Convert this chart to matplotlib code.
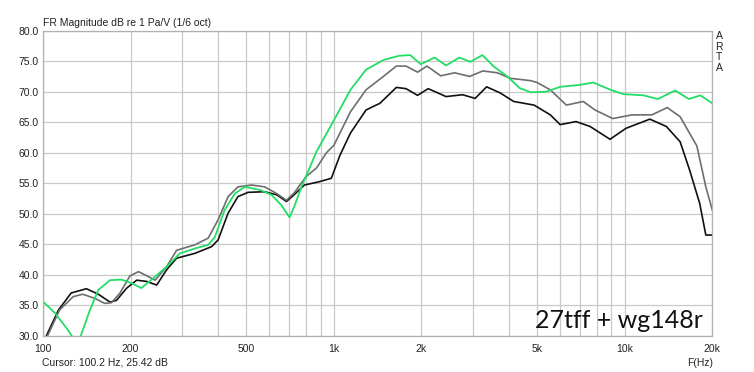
import matplotlib
matplotlib.use('Agg')
import matplotlib.pyplot as plt

# frequency response readings (Hz, dB)
green_f = [100, 110, 122, 127, 134, 145, 155, 170, 186, 202, 218, 239, 266, 296, 333, 370, 390,
           421, 457, 494, 557, 610, 660, 704, 730, 774, 872, 1000, 1140, 1290, 1480, 1680, 1830,
           1990, 2220, 2430, 2700, 2950, 3240, 3550, 3950, 4350, 4760, 5370, 6000, 6980, 7800,
           8940, 9900, 11600, 13000, 14900, 16600, 18200, 20000]
green_db = [35.6, 33.7, 30.9, 29.6, 29.6, 34.2, 37.5, 39.1, 39.2, 38.6, 37.8, 39.4, 41.3, 43.5, 44.3,
            44.9, 46.2, 50.6, 53.3, 54.4, 53.9, 53.1, 51.4, 49.4, 51.1, 54.4, 60.2, 65.3,
            70.3, 73.6, 75.2, 75.9, 76.0, 74.5, 75.6, 74.3, 75.6, 74.9, 76.0, 74.1, 72.5, 70.6,
            69.9, 70.0, 70.8, 71.1, 71.5, 70.3, 69.6, 69.4, 68.8, 70.2, 68.8, 69.4, 68.1]

gray_f = [100, 104, 114, 127, 137, 151, 163, 172, 184, 199, 213, 230, 243, 266, 288, 333, 370,
          400, 433, 468, 521, 578, 636, 687, 730, 803, 872, 943, 1000, 1140, 1290, 1480, 1640,
          1770, 1940, 2090, 2330, 2600, 2930, 3250, 3650, 4040, 4760, 5000, 5550, 6300, 7200,
          7900, 9100, 10600, 12400, 14000, 15500, 17700, 19000, 20000]
gray_db = [28.0, 30.1, 34.2, 36.4, 36.8, 36.1, 35.3, 35.4, 37.0, 39.8, 40.5, 39.7, 39.1, 41.3, 44.0,
           44.9, 46.0, 49.0, 52.8, 54.4, 54.7, 54.4, 53.3, 52.2, 53.4, 56.1, 57.5, 60.0, 61.2,
           66.7, 70.3, 72.5, 74.2, 74.2, 73.2, 74.2, 72.6, 73.1, 72.5, 73.4, 73.1, 72.2, 71.8,
           71.5, 70.3, 67.8, 68.4, 67.0, 65.6, 66.2, 66.2, 67.4, 65.9, 61.1, 54.4, 50.6]

black_f = [100, 103, 113, 125, 141, 155, 170, 179, 194, 210, 227, 246, 266, 288, 333, 380, 400,
           433, 468, 507, 578, 636, 687, 730, 792, 884, 980, 1050, 1140, 1290, 1440, 1640, 1770,
           1940, 2110, 2430, 2770, 3060, 3350, 3730, 4150, 4880, 5550, 6000, 6800, 7600, 8900,
           10100, 12200, 13900, 15500, 16700, 18100, 19000, 20000]
black_db = [28.0, 30.1, 34.2, 37.0, 37.7, 36.8, 35.5, 35.8, 37.8, 39.1, 38.9, 38.3, 40.8, 42.7, 43.5,
            44.6, 45.7, 50.1, 52.8, 53.5, 53.6, 53.1, 52.0, 53.1, 54.7, 55.2, 55.8, 59.6, 63.2,
            67.0, 68.1, 70.7, 70.5, 69.4, 70.5, 69.2, 69.5, 68.9, 70.8, 69.8, 68.4, 67.8, 66.2,
            64.6, 65.1, 64.3, 62.2, 64.0, 65.5, 64.3, 61.8, 57.2, 51.7, 46.5, 46.5]

x_labels = ['100', '200', '500', '1k', '2k', '5k', '10k', '20k']
x_label_pos = [100, 200, 500, 1000, 2000, 5000, 10000, 20000]
x_grid = [300, 400, 600, 700, 800, 900, 3000, 4000, 6000, 7000, 8000, 9000]
y_ticks = [30, 35, 40, 45, 50, 55, 60, 65, 70, 75, 80]

plt.rcParams['font.family'] = ['Liberation Sans', 'DejaVu Sans']

fig = plt.figure(figsize=(7.54, 3.72), dpi=100)
ax = fig.add_axes([0.0570, 0.0976, 0.8877, 0.8199])

ax.plot(black_f, black_db, color='#111111', lw=1.2)
ax.plot(gray_f, gray_db, color='#6e6e6e', lw=1.2)
ax.plot(green_f, green_db, color='#22dd66', lw=1.3)

ax.set_xscale('log')
ax.set_xlim(100, 20000)
ax.set_ylim(30, 80)
ax.set_xticks(x_label_pos)
ax.set_xticklabels(x_labels)
ax.set_xticks(x_grid, minor=True)
ax.set_xticklabels([], minor=True)
ax.set_yticks(y_ticks)
ax.set_yticklabels(['%.1f' % v for v in y_ticks])
ax.tick_params(which='both', length=0, labelsize=7.5, colors='#222222')
ax.tick_params(axis='x', pad=6)
ax.tick_params(axis='y', pad=3)
ax.grid(True, which='both', color='#c8c8c8', lw=0.9)
ax.set_axisbelow(True)
for s in ax.spines.values():
    s.set_color('#b0b0b0')
    s.set_linewidth(0.9)

fig.text(0.0574, 0.931, 'FR Magnitude dB re 1 Pa/V (1/6 oct)', fontsize=7.5, color='#222222')
for i, ch in enumerate('ARTA'):
    fig.text(0.9536, 1 - (35.7 + i * 10.9) / 372, ch, fontsize=7.5, color='#222222',
             ha='center', va='center')
fig.text(0.0561, 0.025, 'Cursor: 100.2 Hz, 25.42 dB', fontsize=7.5, color='#222222', va='center')
fig.text(0.928, 0.025, 'F(Hz)', fontsize=7.5, color='#222222', ha='center', va='center')
fig.text(0.9325, 0.1175, '27tff + wg148r', fontsize=18, family='Lato', color='#111111',
         ha='right', va='baseline')

plt.savefig('out.png', dpi=100)
